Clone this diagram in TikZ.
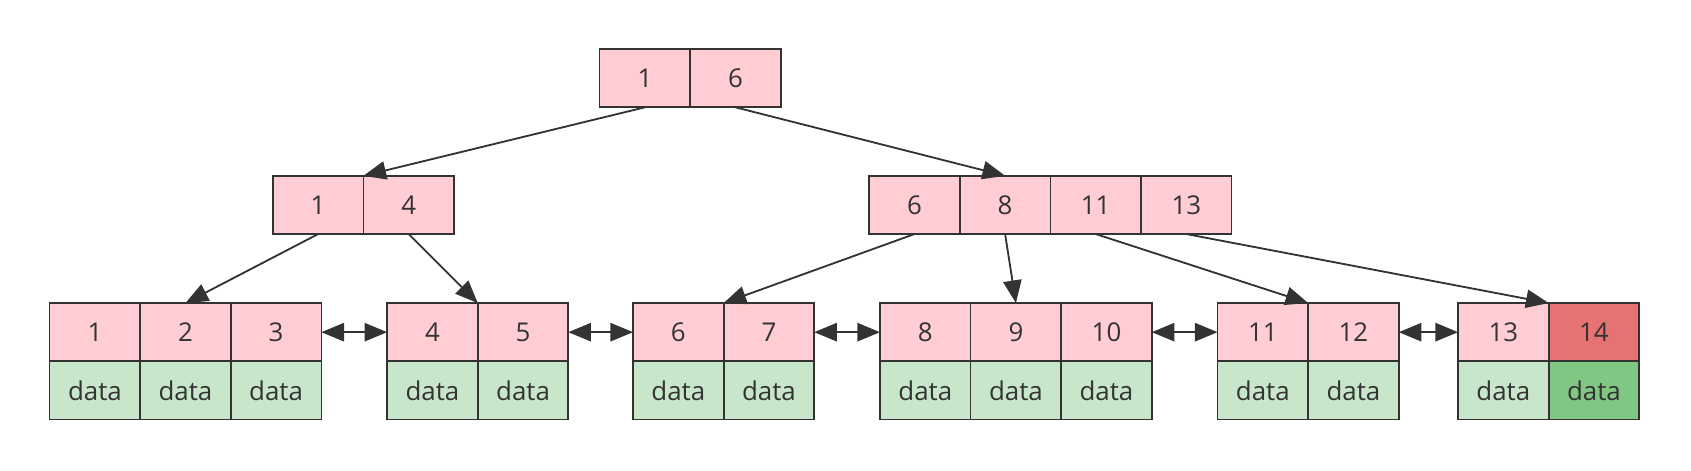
\documentclass[tikz,border=0pt]{standalone}
\usepackage{fontspec}
\setmainfont{Open Sans}
\usetikzlibrary{arrows.meta}
\definecolor{keyfill}{HTML}{FFCDD2}
\definecolor{datafill}{HTML}{C8E6C9}
\definecolor{keyhot}{HTML}{E57373}
\definecolor{datahot}{HTML}{81C784}
\definecolor{ink}{HTML}{333333}
\tikzset{
  cell/.style={draw=ink, line width=0.8pt, minimum width=42pt, minimum height=27pt,
    inner sep=0pt, outer sep=0pt, text=ink, font=\fontsize{12}{14}\selectfont},
  keycell/.style={cell, fill=keyfill},
  datacell/.style={cell, fill=datafill},
  tip/.style={Triangle[length=10.5pt,width=8.5pt]},
  link/.style={draw=ink, line width=0.85pt, -{Triangle[length=10.5pt,width=8.5pt]}},
  dlink/.style={draw=ink, line width=0.85pt, {Triangle[length=10.5pt,width=8.5pt]}-{Triangle[length=10.5pt,width=8.5pt]}}
}
\begin{document}
\begin{tikzpicture}[x=0.5pt,y=-0.5pt]
\useasboundingbox (0,0) rectangle (1568,436);
% root
\node[keycell] (r1) at (598,72.5) {1};
\node[keycell] (r6) at (682,72.5) {6};
% level 2
\node[keycell] (a1) at (295,190) {1};
\node[keycell] (a4) at (379,190) {4};
\node[keycell] (b6) at (848,190) {6};
\node[keycell] (b8) at (932,190) {8};
\node[keycell] (b11) at (1016,190) {11};
\node[keycell] (b13) at (1100,190) {13};
% leaves
\foreach \n/\x in {1/88,2/172,3/256,4/401,5/485,6/629,7/713,8/858,9/942,10/1026,11/1171,12/1255,13/1394}{
  \node[keycell] (k\n) at (\x,308) {\n};
  \node[datacell] (d\n) at (\x,362) {data};
}
\node[keycell, fill=keyhot] (k14) at (1478,308) {14};
\node[datacell, fill=datahot] (d14) at (1478,362) {data};
% tree links
\draw[link] (r1.south) -- (a1.north east);
\draw[link] (r6.south) -- (b8.north);
\draw[link] (a1.south) -- (k2.north);
\draw[link] (a4.south) -- (k4.north east);
\draw[link] (b6.south) -- (k6.north east);
\draw[link] (b8.south) -- (k9.north);
\draw[link] (b11.south) -- (k11.north east);
\draw[link] (b13.south) -- (k13.north east);
% leaf chain
\draw[dlink] (k3.east) -- (k4.west);
\draw[dlink] (k5.east) -- (k6.west);
\draw[dlink] (k7.east) -- (k8.west);
\draw[dlink] (k10.east) -- (k11.west);
\draw[dlink] (k12.east) -- (k13.west);
\end{tikzpicture}
\end{document}
